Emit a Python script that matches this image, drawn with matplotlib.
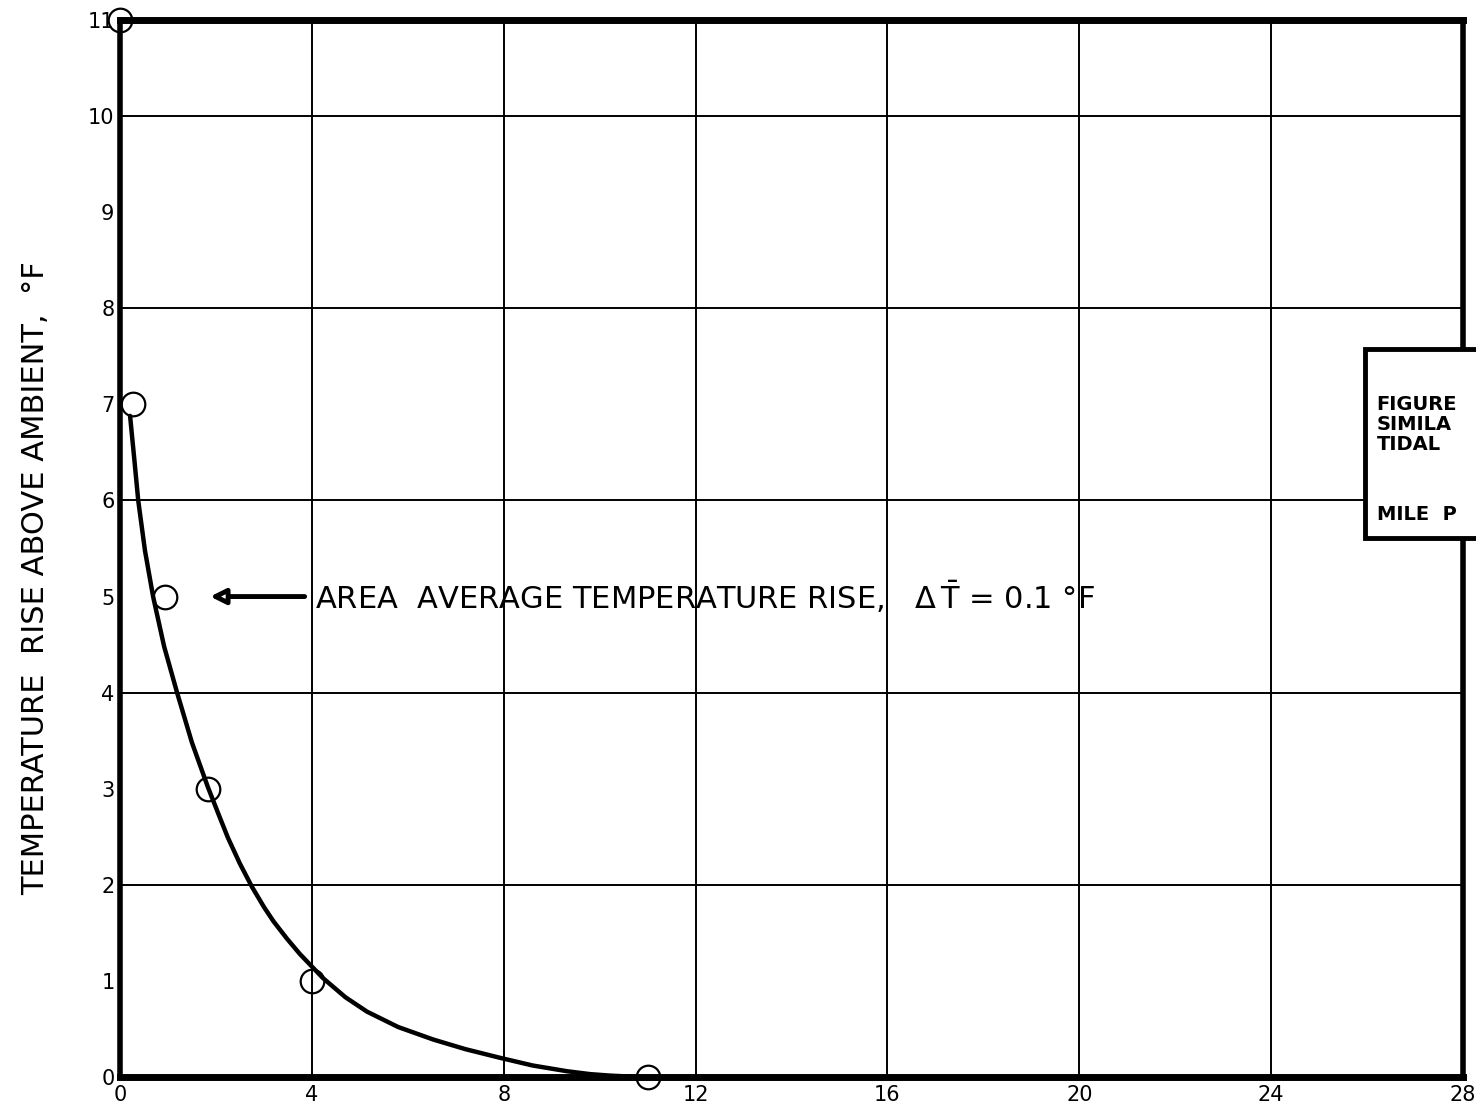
import matplotlib
matplotlib.use("Agg")
import matplotlib.pyplot as plt
from matplotlib.patches import Rectangle

# ---- data ----
point_x = [0.0, 0.27, 0.94, 1.83, 4.0, 11.0]
point_y = [11.0, 7.0, 5.0, 3.0, 1.0, 0.0]

curve_x = [0.21, 0.30, 0.38, 0.52, 0.69, 0.92, 1.19, 1.50, 1.83, 2.05, 2.25,
           2.50, 2.75, 3.00, 3.20, 3.48, 3.75, 4.00, 4.23, 4.70, 5.15, 5.80,
           6.53, 7.20, 7.92, 8.60, 9.32, 9.80, 10.2, 10.6, 10.99]
curve_y = [6.88, 6.42, 6.00, 5.48, 5.00, 4.48, 4.00, 3.48, 3.02, 2.74, 2.49,
           2.22, 1.98, 1.77, 1.62, 1.44, 1.28, 1.15, 1.03, 0.83, 0.68, 0.52,
           0.39, 0.29, 0.20, 0.12, 0.06, 0.03, 0.015, 0.005, 0.0]

x_ticks = [0, 4, 8, 12, 16, 20, 24, 28]
x_tick_labels = ["0", "4", "8", "12", "16", "20", "24", "28"]
y_ticks = [0, 1, 2, 3, 4, 5, 6, 7, 8, 9, 10, 11]
y_tick_labels = ["0", "1", "2", "3", "4", "5", "6", "7", "8", "9", "10", "11"]
x_grid = [4, 8, 12, 16, 20, 24]
y_grid = [2, 4, 6, 8, 10]

ylabel = "TEMPERATURE  RISE ABOVE AMBIENT,  \u00b0F"
annotation_text = r"AREA  AVERAGE TEMPERATURE RISE,   $\Delta\,\bar{T}$ = 0.1 °F"
box_lines = ["FIGURE", "SIMILA", "TIDAL", "", "MILE  P"]

plt.rcParams['font.family'] = ['DejaVu Sans']
plt.rcParams['mathtext.default'] = 'regular'

fig = plt.figure(figsize=(14.76, 11.13), dpi=100)
ax = fig.add_axes([120/1476, 1 - 1077/1113, (1463-120)/1476, (1077-20)/1113])
ax.set_xlim(0, 28)
ax.set_ylim(0, 11)

for gx in x_grid:
    ax.axvline(gx, color='black', lw=1.4, zorder=1)
for gy in y_grid:
    ax.axhline(gy, color='black', lw=1.4, zorder=1)

ax.plot(curve_x, curve_y, color='black', lw=3.2, zorder=3,
        solid_capstyle='round', solid_joinstyle='round')
ax.plot(point_x, point_y, linestyle='none', marker='o', markersize=17,
        markerfacecolor='none', markeredgecolor='black', markeredgewidth=1.6,
        zorder=4, clip_on=False)

for side, lw in [('top', 5), ('bottom', 5), ('left', 4), ('right', 4)]:
    ax.spines[side].set_linewidth(lw)
    ax.spines[side].set_zorder(5)

ax.set_xticks(x_ticks)
ax.set_xticklabels(x_tick_labels)
ax.set_yticks(y_ticks)
ax.set_yticklabels(y_tick_labels)
ax.tick_params(axis='both', length=0, labelsize=15, pad=6)
ax.tick_params(axis='y', pad=4)

fig.text(36/1476, 1 - 578/1113, ylabel, rotation=90, fontsize=22,
         ha='center', va='center')

# annotation arrow and text
ax.annotate('', xy=(1.88, 5.0), xytext=(3.85, 5.0),
            arrowprops=dict(arrowstyle='-|>,head_length=0.9,head_width=0.45',
                            fc='white', ec='black', lw=3.5, shrinkA=0, shrinkB=0),
            zorder=6)
ax.text(4.07, 5.0, annotation_text, fontsize=22, ha='left', va='center', zorder=6)

# partial title box at the right
box = Rectangle((25.96, 5.61), 4.0, 7.58 - 5.61, transform=ax.transData,
                facecolor='white', edgecolor='black', lw=3.5, zorder=7,
                clip_on=False)
ax.add_patch(box)
line_y = [7.0, 6.79, 6.58, 6.37, 5.85]
for txt, ty in zip(box_lines, line_y):
    if txt:
        ax.text(26.2, ty, txt, fontsize=14, fontweight='bold', ha='left',
                va='center', zorder=8, clip_on=False)

fig.savefig("out.png", dpi=100)
